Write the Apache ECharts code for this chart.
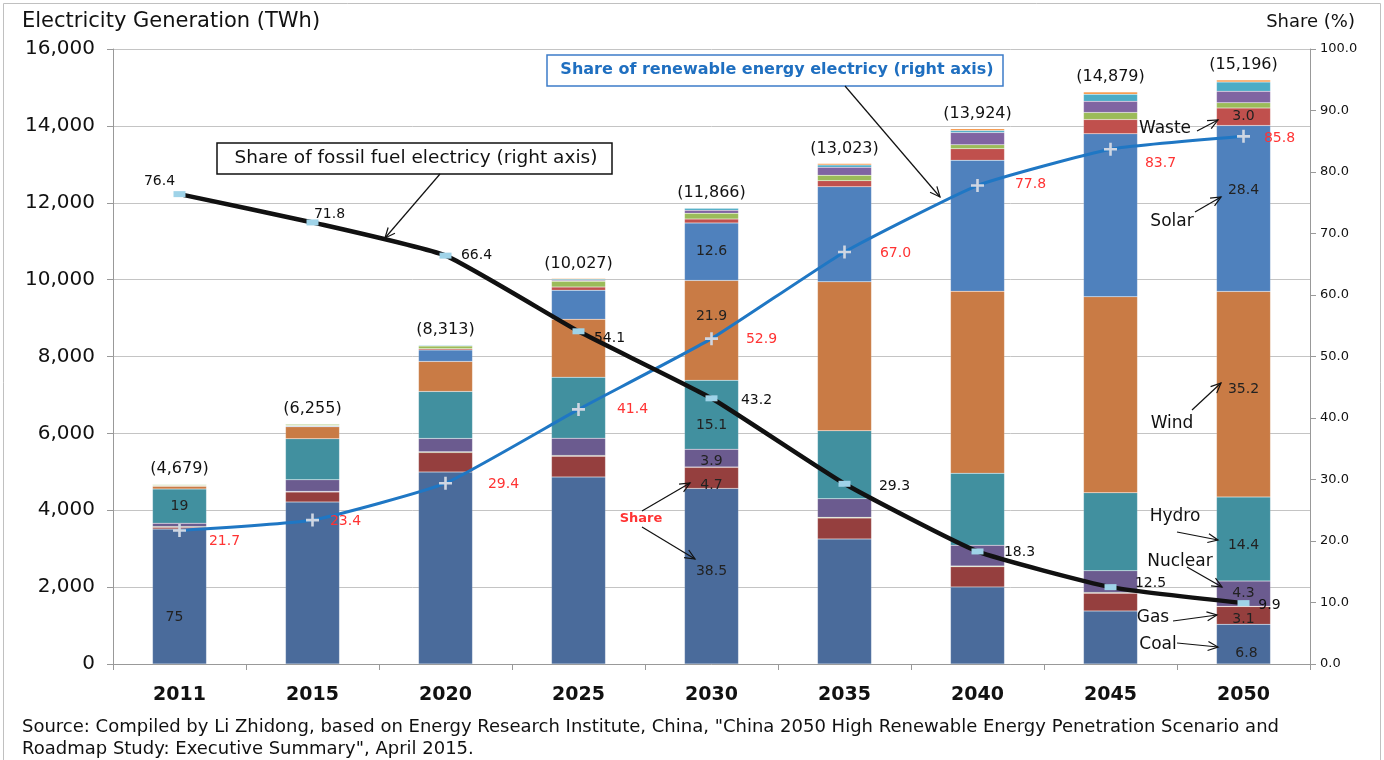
<!DOCTYPE html>
<html>
<head>
<meta charset="utf-8">
<script src="https://cdn.jsdelivr.net/npm/echarts@6/dist/echarts.min.js"></script>
<style>
  html, body { margin: 0; padding: 0; background: #fff; }
  #chart { width: 1384px; height: 760px; }
</style>
</head>
<body>
<div id="chart"></div>
<script>
// ---------------- data ----------------
var years = ["2011", "2015", "2020", "2025", "2030", "2035", "2040", "2045", "2050"];
var totals = [4679, 6255, 8313, 10027, 11866, 13023, 13924, 14879, 15196];

var coal       = [3509, 4215, 4995, 4865, 4568, 3252, 2003, 1379, 1033];
var gas        = [46, 260, 505, 540, 548, 544, 525, 461, 461];
var oil        = [20, 16, 20, 20, 10, 20, 20, 20, 10];
var nuclear    = [89, 300, 349, 451, 463, 482, 543, 565, 653];
var hydro      = [889, 1067, 1222, 1587, 1792, 1769, 1873, 2029, 2188];
var wind       = [74, 312, 781, 1508, 2599, 3876, 4735, 5099, 5349];
var solar      = [5, 25, 300, 755, 1495, 2472, 3408, 4241, 4316];
var waste      = [10, 10, 30, 80, 100, 160, 300, 370, 456];
var biomass    = [25, 35, 70, 150, 150, 140, 100, 185, 135];
var geothermal = [5, 5, 15, 30, 80, 210, 320, 290, 300];
var ocean      = [2, 5, 16, 21, 50, 60, 50, 185, 240];
var other      = [5, 5, 10, 20, 11, 38, 47, 55, 55];

// share labels written inside the bars
var coalShare    = ["75", "", "", "", "38.5", "", "", "", "6.8"];
var gasShare     = ["", "", "", "", "4.7", "", "", "", "3.1"];
var nuclearShare = ["", "", "", "", "3.9", "", "", "", "4.3"];
var hydroShare   = ["19", "", "", "", "15.1", "", "", "", "14.4"];
var windShare    = ["", "", "", "", "21.9", "", "", "", "35.2"];
var solarShare   = ["", "", "", "", "12.6", "", "", "", "28.4"];
var wasteShare   = ["", "", "", "", "", "", "", "", "3.0"];

var renewableShare = [21.7, 23.4, 29.4, 41.4, 52.9, 67.0, 77.8, 83.7, 85.8];
var fossilShare    = [76.4, 71.8, 66.4, 54.1, 43.2, 29.3, 18.3, 12.5, 9.9];

// ---------------- look ----------------
var FONT = "'DejaVu Sans', sans-serif";
var renewOffsets = [[45, 11], [33, 1], [58, 1], [54, 0], [50, 1], [51, 1], [53, -1], [50, 14], [36, 2]];
var fossilOffsets = [[-20, -13], [17, -8], [31, 0], [31, 7], [45, 2], [50, 3], [42, 1], [40, -4], [26, 2]];

function barSeries(name, values, color, shares, nudge) {
  return {
    name: name,
    type: "bar",
    stack: "gen",
    barWidth: 54,
    itemStyle: { color: color, borderColor: "rgba(255,255,255,0.25)", borderWidth: 0.5 },
    label: { show: false },
    data: values.map(function (v, i) {
      var txt = shares ? shares[i] : "";
      if (!txt) return v;
      return {
        value: v,
        label: {
          show: true,
          position: "inside",
          formatter: txt,
          color: "#222",
          fontSize: 14,
          fontFamily: FONT,
          offset: (nudge && nudge[i]) || [0, 0]
        }
      };
    })
  };
}

var series = [
  barSeries("Coal", coal, "#4a6b9b", coalShare, { 0: [-5, 21], 4: [0, -5], 8: [3, 9] }),
  barSeries("Gas", gas, "#953f3e", gasShare, { 4: [0, 7], 8: [0, 4] }),
  barSeries("Oil", oil, "#77933c"),
  barSeries("Nuclear", nuclear, "#6b5b8f", nuclearShare, { 4: [0, 3] }),
  barSeries("Hydro", hydro, "#41909f", hydroShare, { 4: [0, 11], 8: [0, 6] }),
  barSeries("Wind", wind, "#c97b45", windShare, { 4: [0, -14], 8: [0, -5] }),
  barSeries("Solar", solar, "#4f81bd", solarShare, { 8: [0, -18] }),
  barSeries("Waste", waste, "#c0504d", wasteShare),
  barSeries("Biomass", biomass, "#9bbb59"),
  barSeries("Geothermal", geothermal, "#8064a2"),
  barSeries("Ocean", ocean, "#4bacc6"),
  barSeries("Other", other, "#f79646")
];

// totals above each bar
series[series.length - 1].label = {
  show: true,
  position: "top",
  distance: 7,
  fontSize: 16,
  fontFamily: FONT,
  color: "#111",
  formatter: function (p) {
    return "(" + totals[p.dataIndex].toLocaleString("en-US") + ")";
  }
};

series.push({
  name: "Renewable share",
  type: "line",
  yAxisIndex: 1,
  smooth: 0.15,
  z: 5,
  symbol: "path://M4,0H6V4H10V6H6V10H4V6H0V4H4Z",
  symbolSize: 13,
  itemStyle: { color: "#cfd6e2" },
  lineStyle: { color: "#1f77c4", width: 3 },
  data: renewableShare.map(function (v, i) {
    return {
      value: v,
      label: {
        show: true, position: "inside", offset: renewOffsets[i],
        formatter: v.toFixed(1), color: "#ff3333", fontSize: 14, fontFamily: FONT
      }
    };
  })
});

series.push({
  name: "Fossil share",
  type: "line",
  yAxisIndex: 1,
  smooth: 0.15,
  z: 6,
  symbol: "rect",
  symbolSize: [12, 6],
  itemStyle: { color: "#9fd3e8" },
  lineStyle: { color: "#111", width: 4.5 },
  data: fossilShare.map(function (v, i) {
    return {
      value: v,
      label: {
        show: true, position: "inside", offset: fossilOffsets[i],
        formatter: v.toFixed(1), color: "#111", fontSize: 14, fontFamily: FONT
      }
    };
  })
});

// ---------------- annotations ----------------
function arrow(x1, y1, x2, y2) {
  var a = Math.atan2(y2 - y1, x2 - x1), L = 11, w = 0.42;
  return [
    { type: "line", z: 100, shape: { x1: x1, y1: y1, x2: x2, y2: y2 }, style: { stroke: "#111", lineWidth: 1.2 } },
    { type: "polyline", z: 100, shape: { points: [
        [x2 - L * Math.cos(a - w), y2 - L * Math.sin(a - w)], [x2, y2],
        [x2 - L * Math.cos(a + w), y2 - L * Math.sin(a + w)] ] },
      style: { stroke: "#111", lineWidth: 1.2, fill: null } }
  ];
}

function note(txt, x, y, extra) {
  var s = { text: txt, x: x, y: y, align: "center", verticalAlign: "middle",
            font: "17px " + FONT, fill: "#111" };
  for (var k in extra) s[k] = extra[k];
  return { type: "text", z: 100, style: s };
}

var graphics = [
  { type: "rect", z: -1, shape: { x: 3.5, y: 3.5, width: 1377, height: 770 },
    style: { fill: null, stroke: "#c0c0c0", lineWidth: 1 } },
  { type: "text", style: { text: "Electricity Generation (TWh)", x: 22, y: 22, verticalAlign: "middle",
      font: "21px " + FONT, fill: "#111" } },
  { type: "text", style: { text: "Share (%)", x: 1355, y: 22, align: "right", verticalAlign: "middle",
      font: "18px " + FONT, fill: "#111" } },
  { type: "text", style: { text: 'Source: Compiled by Li Zhidong, based on Energy Research Institute, China, "China 2050 High Renewable Energy Penetration Scenario and',
      x: 22, y: 727, verticalAlign: "middle", font: "18px " + FONT, fill: "#111" } },
  { type: "text", style: { text: 'Roadmap Study: Executive Summary", April 2015.',
      x: 22, y: 749, verticalAlign: "middle", font: "18px " + FONT, fill: "#111" } },

  { type: "rect", z: 99, shape: { x: 547, y: 55, width: 456, height: 31 },
    style: { fill: "#fff", stroke: "#3d7cc9", lineWidth: 1.5 } },
  note("Share of renewable energy electricy (right axis)", 777, 70,
       { font: "bold 16px " + FONT, fill: "#1f6fc0" }),
  { type: "rect", z: 99, shape: { x: 217, y: 143, width: 395, height: 31 },
    style: { fill: "#fff", stroke: "#111", lineWidth: 1.5 } },
  note("Share of fossil fuel electricy (right axis)", 416, 158, { font: "18.5px " + FONT }),

  note("Share", 641, 519, { font: "bold 13px " + FONT, fill: "#ff3333" }),
  note("Waste", 1165, 129),
  note("Solar", 1172, 222),
  note("Wind", 1172, 424),
  note("Hydro", 1175, 517),
  note("Nuclear", 1180, 562),
  note("Gas", 1153, 618),
  note("Coal", 1158, 645)
]
  .concat(arrow(845, 86, 940, 197))
  .concat(arrow(440, 174, 385, 238))
  .concat(arrow(642, 511, 690, 483))
  .concat(arrow(642, 527, 695, 559))
  .concat(arrow(1197, 131, 1218, 120))
  .concat(arrow(1195, 212, 1221, 197))
  .concat(arrow(1192, 410, 1221, 383))
  .concat(arrow(1177, 532, 1218, 540))
  .concat(arrow(1187, 567, 1222, 587))
  .concat(arrow(1173, 621, 1217, 615))
  .concat(arrow(1177, 643, 1218, 647));

// ---------------- chart ----------------
var myChart = echarts.init(document.getElementById("chart"), null, { renderer: "canvas" });

var option = {
  animation: false,
  backgroundColor: "#fff",
  textStyle: { fontFamily: FONT },
  grid: { left: 113, right: 74, top: 49, bottom: 96, containLabel: false },
  xAxis: {
    type: "category",
    data: years,
    axisLine: { lineStyle: { color: "#999", width: 1 } },
    axisTick: { show: true, alignWithLabel: false, length: 6, lineStyle: { color: "#999" } },
    axisLabel: { color: "#111", fontSize: 19, fontWeight: "bold", margin: 22, fontFamily: FONT }
  },
  yAxis: [
    {
      type: "value", min: 0, max: 16000, interval: 2000,
      axisLine: { show: true, lineStyle: { color: "#999" } },
      axisTick: { show: true, length: 6, lineStyle: { color: "#999" } },
      splitLine: { lineStyle: { color: "#c4c4c4", width: 1 } },
      axisLabel: {
        color: "#111", fontSize: 20, margin: 18, fontFamily: FONT,
        formatter: function (v) { return v.toLocaleString("en-US"); }
      }
    },
    {
      type: "value", min: 0, max: 100, interval: 10, position: "right",
      axisLine: { show: true, lineStyle: { color: "#999" } },
      axisTick: { show: true, length: 6, lineStyle: { color: "#999" } },
      splitLine: { show: false },
      axisLabel: {
        color: "#111", fontSize: 13, margin: 10, fontFamily: FONT,
        formatter: function (v) { return v.toFixed(1); }
      }
    }
  ],
  series: series,
  graphic: graphics
};

myChart.setOption(option);
window.addEventListener("resize", myChart.resize);
</script>
</body>
</html>
